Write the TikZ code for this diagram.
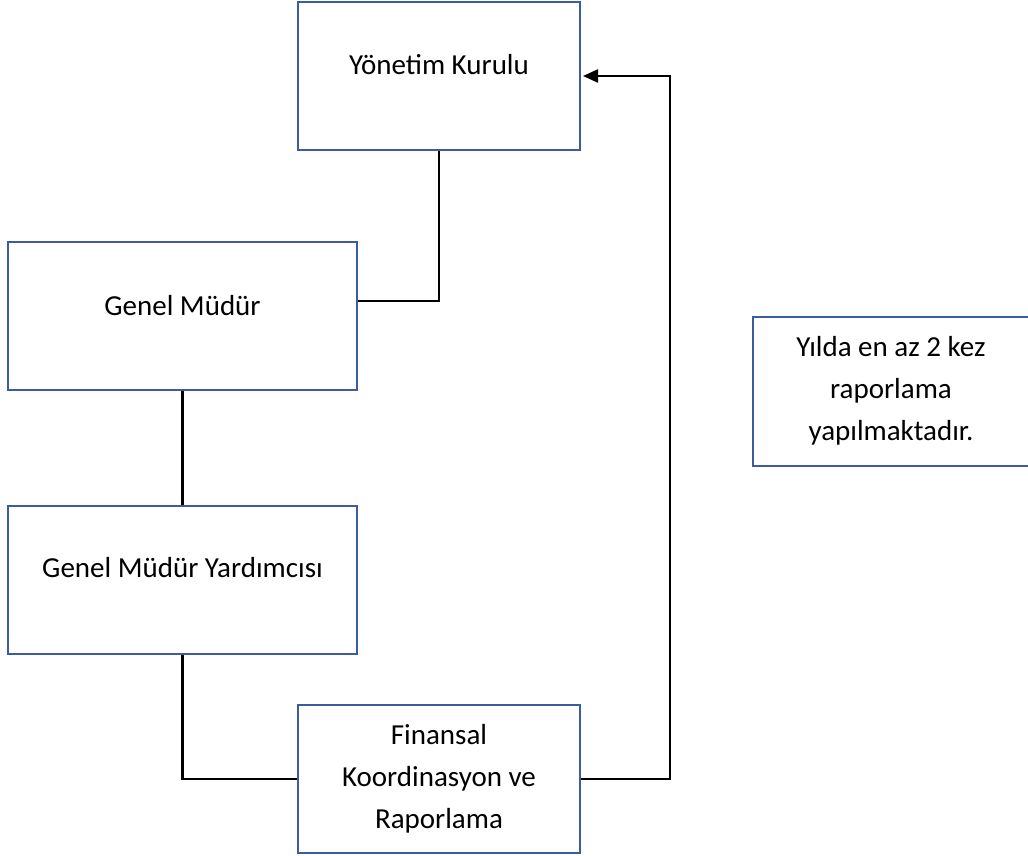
\documentclass[tikz,border=0pt]{standalone}
\usepackage{fontspec}
\setmainfont{Carlito}
\usetikzlibrary{arrows.meta}
\definecolor{boxblue}{RGB}{59,92,160}
\begin{document}
\begin{tikzpicture}[x=1pt,y=-1pt,
  box/.style={draw=boxblue,line width=2pt,rectangle,inner sep=0pt,minimum width=#1,minimum height=148pt},
  txt/.style={font=\fontsize{29}{42}\selectfont,align=center,inner sep=0pt,text=black},
  conn/.style={draw=black,line width=2.4pt}]
\useasboundingbox (0,0) rectangle (1028,856);
\fill[white] (0,0) rectangle (1028,856);
% boxes
\node[box=282pt] (yk) at (439,76) {};
\node[box=349pt] (gm) at (182.5,316) {};
\node[box=349pt] (gmy) at (182.5,580) {};
\node[box=282pt] (fk) at (439,779) {};
\node[box=280pt,minimum height=149pt] (note) at (892.5,391.5) {};
% texts
\node[txt] (ykt) at (439,65) {Yönetim Kurulu};
\node[txt] (gmt) at (182.5,306) {Genel Müdür};
\node[txt] (gmyt) at (182.5,568) {Genel Müdür Yardımcısı};
\node[txt] (fkt) at (439,779) {Finansal\\Koordinasyon ve\\Raporlama};
\node[txt] (notet) at (891,391) {Yılda en az 2 kez\\raporlama\\yapılmaktadır.};
% connectors
\draw[conn] (yk.south) |- ([yshift=15pt]gm.east);
\draw[conn] (gm.south) -- (gmy.north);
\draw[conn] (gmy.south) |- (fk.west);
\coordinate (turn) at (670,779);
\draw[conn,-{Triangle[length=15pt,width=13pt]},shorten >=2pt] (fk.east) -- (turn) |- (yk.east);
\end{tikzpicture}
\end{document}
